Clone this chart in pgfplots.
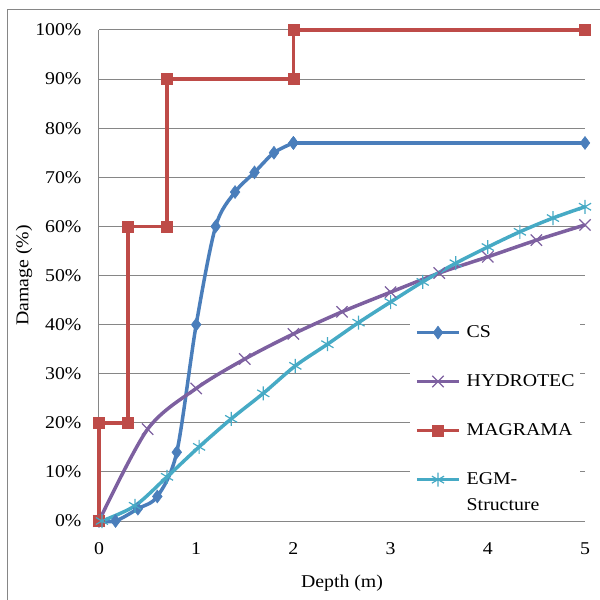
\documentclass[border=0pt]{standalone}
\usepackage{fontspec}
\setmainfont{Liberation Serif}[FakeStretch=1.1]
\usepackage{pgfplots}
\pgfplotsset{compat=1.18}

\definecolor{csblue}{HTML}{4A7EBB}
\definecolor{hydpurple}{HTML}{7D60A0}
\definecolor{magred}{HTML}{BE4B48}
\definecolor{egmcyan}{HTML}{46AAC5}
\definecolor{gridgrey}{HTML}{868686}

\begin{document}
\begin{tikzpicture}
\useasboundingbox (-99pt,-79pt) rectangle (501pt,521pt);
\draw[gridgrey, line width=1pt] (-91pt,-79pt) -- (-91pt,511pt) -- (501pt,511pt);
\begin{axis}[
  at={(0pt,0pt)}, anchor=south west,
  width=486pt, height=491pt, scale only axis,
  xmin=0, xmax=5, ymin=0, ymax=100,
  clip=false,
  axis x line*=bottom, axis y line*=left,
  axis line style={gridgrey, line width=1pt, -},
  xtick={0,1,2,3,4,5}, ytick={0,10,...,100},
  major tick length=0pt,
  ymajorgrids, grid style={gridgrey, line width=1pt},
  yticklabel={\pgfmathprintnumber{\tick}\%},
  /pgf/number format/assume math mode=true,
  tick label style={font=\fontsize{18}{21}\selectfont},
  yticklabel style={xshift=-14pt},
  xticklabel style={yshift=-18pt},
  xlabel={Depth (m)}, ylabel={Damage (\%)},
  label style={font=\fontsize{18}{21}\selectfont},
  xlabel style={at={(axis description cs:0.5,0)}, anchor=base, yshift=-66pt},
  ylabel style={at={(axis description cs:-0.154,0.5)}, anchor=center},
  legend cell align=left,
  legend style={at={(rel axis cs:0.64,0.41)}, anchor=north west, draw=none, fill=white,
    font=\fontsize{18}{26}\selectfont, row sep=35.5pt, column sep=6pt,
    inner xsep=5pt, inner ysep=6pt, nodes={inner sep=0pt}},
  legend image code/.code={\draw[mark repeat=2, mark phase=2, #1] plot coordinates {(0pt,0pt) (21pt,0pt) (42pt,0pt)};},
]
\addplot[csblue, line width=3.5pt, smooth, tension=0.5, mark=diamond*, mark size=6.5pt,
  mark options={solid, fill=csblue, line width=0.5pt}]
  coordinates {(0,0) (0.17,0) (0.4,2.5) (0.6,5) (0.8,14) (1.0,40) (1.2,60) (1.4,67) (1.6,71) (1.8,75) (2.0,77)};
\addlegendentry{CS}
\addplot[csblue, line width=3.5pt, mark=diamond*, mark size=6.5pt, forget plot,
  mark options={solid, fill=csblue, line width=0.5pt}]
  coordinates {(2.0,77) (5,77)};
\addplot[hydpurple, line width=3.5pt, smooth, tension=0.5, mark=x, mark size=8pt,
  mark options={solid, line width=1.2pt}]
  coordinates {(0,0) (0.5,18.7) (1,27) (1.5,33) (2,38.1) (2.5,42.6) (3,46.6) (3.5,50.5) (4,53.8) (4.5,57.2) (5,60.3)};
\addlegendentry{HYDROTEC}
\addplot[magred, line width=3.5pt, mark=square*, mark size=5.5pt,
  mark options={solid, fill=magred, line width=0.5pt}]
  coordinates {(0,0) (0,20) (0.3,20) (0.3,60) (0.7,60) (0.7,90) (2,90) (2,100) (5,100)};
\addlegendentry{MAGRAMA}
\addplot[egmcyan, line width=3.5pt, smooth, tension=0.5, mark=asterisk, mark size=7pt,
  mark options={solid, line width=1.2pt}]
  coordinates {(0.03,0) (0.37,3.1) (0.7,9.0) (1.03,15.1) (1.36,20.8) (1.69,26.0) (2.02,31.6) (2.35,36) (2.67,40.4) (3.0,44.6) (3.33,48.7) (3.67,52.5) (4.0,55.8) (4.33,58.9) (4.67,61.7) (5.0,64.0)};
\addlegendentry{\vtop{\hbox{EGM-}\hbox{Structure}}}
\end{axis}
\end{tikzpicture}
\end{document}
